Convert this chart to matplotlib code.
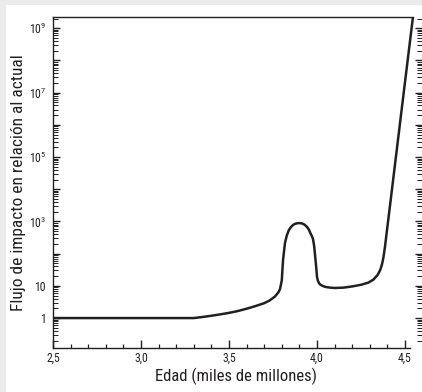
import matplotlib
matplotlib.use("Agg")
import matplotlib.pyplot as plt
import matplotlib.ticker as mticker
from matplotlib.patches import Rectangle
from matplotlib import font_manager
import numpy as np

# Data
age = [2.5, 3.0, 3.22, 3.3, 3.35, 3.40, 3.45, 3.50, 3.55, 3.60, 3.65, 3.70,
       3.73, 3.76, 3.78, 3.79, 3.80, 3.807, 3.818, 3.828, 3.84, 3.85, 3.864,
       3.875, 3.885, 3.90, 3.915, 3.93, 3.945, 3.955, 3.962, 3.97, 3.977,
       3.984, 3.99, 3.996, 4.0, 4.005, 4.012, 4.02, 4.035, 4.05, 4.075,
       4.10, 4.15, 4.20, 4.25, 4.29, 4.32, 4.345, 4.36, 4.37, 4.378,
       4.386, 4.40, 4.43, 4.49, 4.545]
flux = [1, 1, 1, 1, 1.08, 1.18, 1.3, 1.45, 1.65, 1.95, 2.35, 2.9,
        3.5, 4.6, 6.2, 8.0, 15, 63, 214, 360, 540, 650, 780,
        840, 875, 890, 870, 790, 660, 540, 440, 360, 290,
        170, 78, 35, 19, 14.5, 12, 10.8, 9.8, 9.2, 8.8,
        8.6, 8.8, 9.6, 10.8, 12.5, 15.5, 22, 32, 48, 80,
        160, 680, 1.5e4, 7.6e6, 2.2e9]

xticks = [2.5, 3.0, 3.5, 4.0, 4.5]
xticklabels = ["2,5", "3,0", "3,5", "4,0", "4,5"]
yticks = [1, 10, 1e3, 1e5, 1e7, 1e9]
yticklabels = ["1", "10", "$10^3$", "$10^5$", "$10^7$", "$10^9$"]

names = {f.name for f in font_manager.fontManager.ttflist}
cands = ["Liberation Sans Narrow", "Roboto Condensed", "Open Sans Condensed",
         "DejaVu Sans"]
fam = [c for c in cands if c in names] + ["DejaVu Sans"]
plt.rcParams["font.family"] = fam
plt.rcParams["font.stretch"] = "condensed"
plt.rcParams["mathtext.fontset"] = "custom"
plt.rcParams["mathtext.rm"] = fam[0] + ":stretch=condensed"
plt.rcParams["mathtext.it"] = fam[0] + ":stretch=condensed"
plt.rcParams["mathtext.default"] = "rm"

W, H = 422, 392
fig = plt.figure(figsize=(W / 100, H / 100), dpi=100)
fig.patch.set_facecolor("white")
gray = "#ebebeb"
fig.patches.append(Rectangle((0, 0), 6 / W, 1, transform=fig.transFigure,
                             facecolor=gray, edgecolor="none", zorder=-5))
fig.patches.append(Rectangle((0, 1 - 5 / H), 1, 5 / H, transform=fig.transFigure,
                             facecolor=gray, edgecolor="none", zorder=-5))

left, right, top, bottom = 53, 422, 17, 348
ax = fig.add_axes([left / W, (H - bottom) / H, (right - left) / W, (bottom - top) / H])
ax.set_facecolor("none")
ax.plot(age, flux, color="#231f20", lw=1.8, solid_capstyle="butt",
        solid_joinstyle="round")

ax.set_yscale("log")
ax.set_xlim(2.5, 2.5 + (right - left) / 176.0)
ax.set_ylim(10 ** -0.93, 10 ** 9.35)

ax.spines["right"].set_visible(False)
for s in ["top", "bottom", "left"]:
    ax.spines[s].set_linewidth(1.0)
    ax.spines[s].set_color("#231f20")
ax.spines["top"].set_bounds(2.5, 4.545)
ax.spines["bottom"].set_bounds(2.5, 4.53)

ax.set_xticks(xticks)
ax.set_xticklabels(xticklabels)
ax.xaxis.set_minor_locator(mticker.FixedLocator(np.arange(2.6, 4.55, 0.1)))
ax.yaxis.set_major_locator(mticker.FixedLocator([10.0 ** k for k in range(0, 10)]))
ax.yaxis.set_minor_locator(mticker.LogLocator(base=10, subs=np.arange(2, 10), numticks=30))

def ylab(v, pos):
    for t, l in zip(yticks, yticklabels):
        if abs(np.log10(v) - np.log10(t)) < 1e-6:
            return l
    return ""
ax.yaxis.set_major_formatter(mticker.FuncFormatter(ylab))
ax.yaxis.set_minor_formatter(mticker.NullFormatter())

ax.tick_params(axis="x", which="major", direction="in", length=6, width=1.0,
               labelsize=8.5, pad=2.5, colors="#231f20")
ax.tick_params(axis="x", which="minor", direction="in", length=3, width=0.9, colors="#231f20")
ax.tick_params(axis="y", which="major", direction="in", length=5, width=1.0,
               labelsize=8.5, pad=5, right=True, colors="#231f20")
ax.tick_params(axis="y", which="minor", direction="in", length=3.5, width=0.7,
               right=True, colors="#231f20")

ax.set_xlabel("Edad (miles de millones)", fontsize=12, color="#231f20")
ax.set_ylabel("Flujo de impacto en relación al actual", fontsize=12.5,
              color="#231f20")
ax.xaxis.set_label_coords(0.497, -0.06)
ax.yaxis.set_label_coords(-0.072, 0.5)

fig.savefig("out.png", dpi=100, facecolor=fig.get_facecolor())
